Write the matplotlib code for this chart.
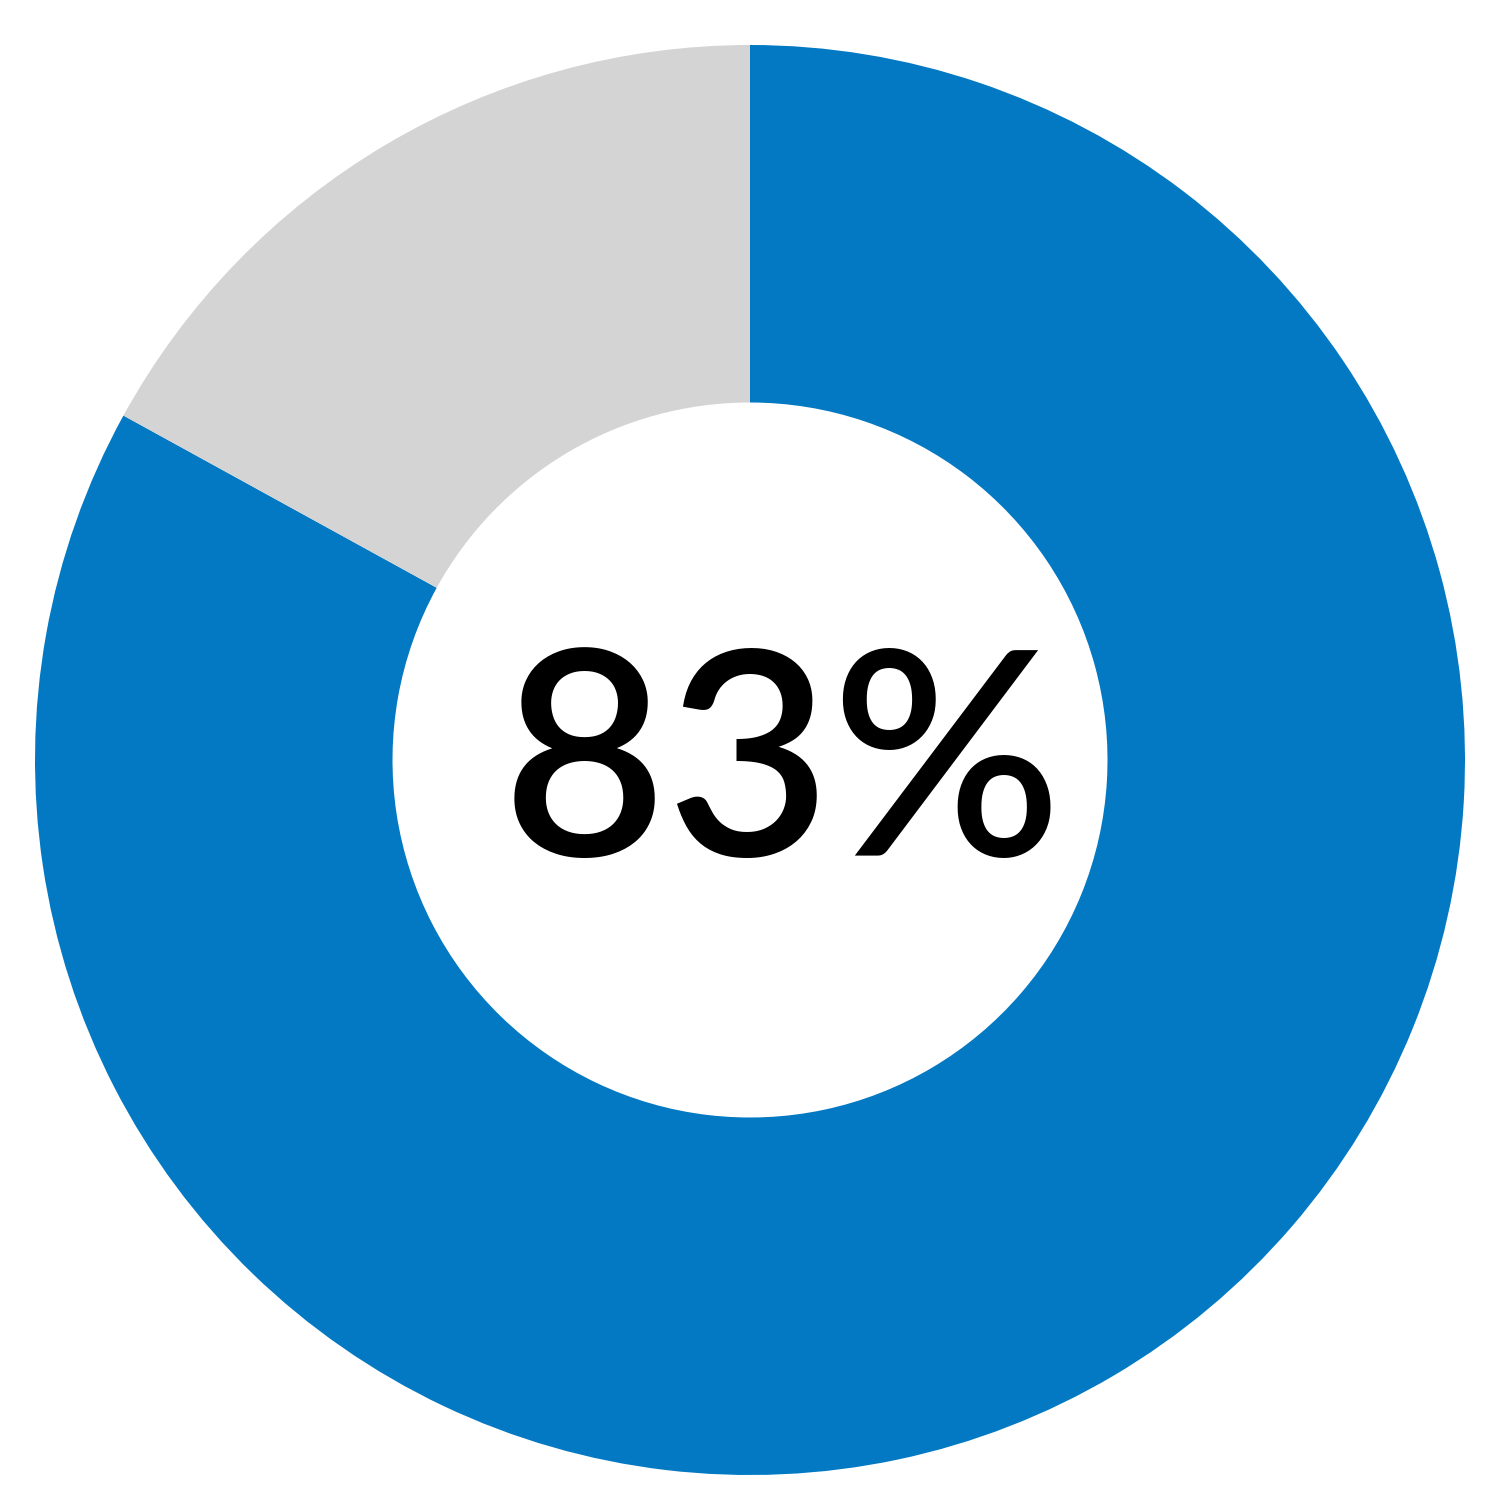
import matplotlib
matplotlib.use("Agg")
import matplotlib.pyplot as plt

labels = ["Yes", "No"]
values = [83, 17]
colors = ["#0279C2", "#D4D4D4"]
center_label = "83%"

fig = plt.figure(figsize=(15, 15), dpi=100)
ax = fig.add_axes([0, 0, 1, 1])
ax.pie(values, colors=colors, startangle=90, counterclock=False,
       radius=1.0, wedgeprops=dict(width=0.5, edgecolor="none"))
r_px = 715.0
cx, cy = 750.0, 740.0
ax.set_xlim(-cx / r_px, (1500 - cx) / r_px)
ax.set_ylim(-cy / r_px, (1500 - cy) / r_px)
ax.set_aspect("equal")
ax.axis("off")
ax.text(32 / r_px, -15 / r_px, center_label, ha="center", va="center",
        fontsize=205, fontweight=600, family=["Lato", "DejaVu Sans"], color="black")
fig.savefig("out.png", dpi=100, facecolor="white")
